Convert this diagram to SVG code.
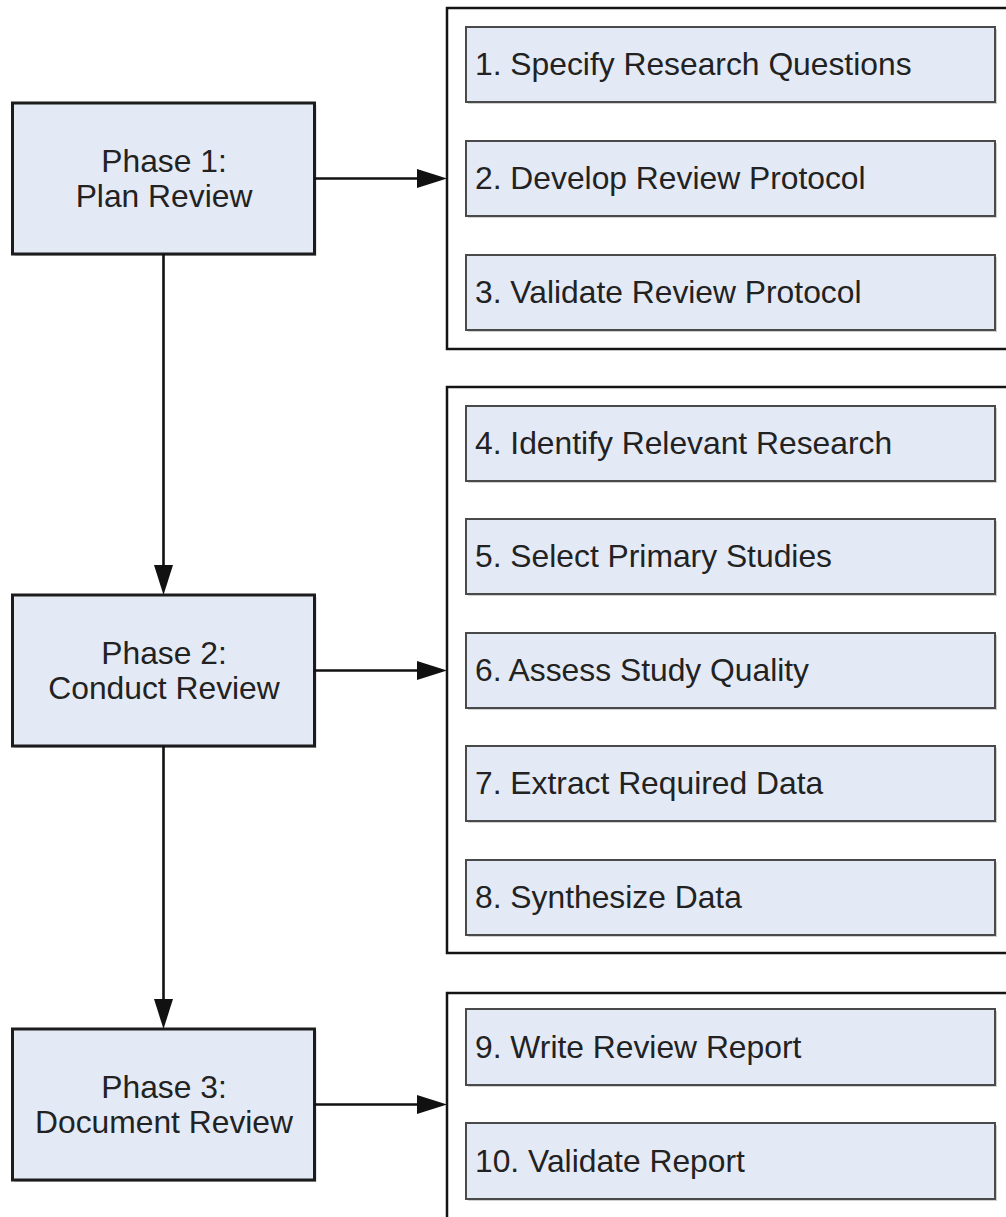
<svg xmlns="http://www.w3.org/2000/svg" width="1006" height="1217" viewBox="0 0 1006 1217">
  <style>
    .phase { fill: #e4eaf5; stroke: #1c1c1c; stroke-width: 3; }
    .group { fill: #ffffff; stroke: #141414; stroke-width: 2.5; }
    .step { fill: #e4eaf5; stroke: #4a4a4a; stroke-width: 2; }
    .shadow { fill: #9a9a9a; opacity: 0.45; }
    .label { font-family: "Liberation Sans", Arial, sans-serif; fill: #222222; font-size: 31.8px; }
    .phase-text { text-anchor: middle; }
    .conn { stroke: #111111; stroke-width: 2.6; fill: none; marker-end: url(#arrow); }
  </style>
  <defs>
    <marker id="arrow" markerUnits="userSpaceOnUse" markerWidth="30" markerHeight="19" refX="5" refY="9.5" orient="auto">
      <path d="M0,0 L30,9.5 L0,19 Z" fill="#111111"/>
    </marker>
  </defs>

  <rect width="1006" height="1217" fill="#ffffff"/>

  <!-- Phase boxes -->
  <g id="phase1">
    <rect class="shadow" x="14.5" y="105" width="302" height="151"/>
    <rect class="phase" x="12.5" y="103" width="302" height="151"/>
    <text class="label phase-text" x="164" y="172">Phase 1:</text>
    <text class="label phase-text" x="164" y="207">Plan Review</text>
  </g>
  <g id="phase2">
    <rect class="shadow" x="14.5" y="597" width="302" height="151"/>
    <rect class="phase" x="12.5" y="595" width="302" height="151"/>
    <text class="label phase-text" x="164" y="664">Phase 2:</text>
    <text class="label phase-text" x="164" y="699">Conduct Review</text>
  </g>
  <g id="phase3">
    <rect class="shadow" x="14.5" y="1031" width="302" height="151"/>
    <rect class="phase" x="12.5" y="1029" width="302" height="151"/>
    <text class="label phase-text" x="164" y="1098">Phase 3:</text>
    <text class="label phase-text" x="164" y="1133">Document Review</text>
  </g>

  <!-- Step groups -->
  <g id="plan-steps">
    <rect class="group" x="447" y="8" width="580" height="341"/>
    <g id="step1">
      <rect class="shadow" x="468" y="29" width="529" height="75"/>
      <rect class="step" x="466" y="27" width="529" height="75"/>
      <text class="label" x="475" y="75">1. Specify Research Questions</text>
    </g>
    <g id="step2">
      <rect class="shadow" x="468" y="143" width="529" height="75"/>
      <rect class="step" x="466" y="141" width="529" height="75"/>
      <text class="label" x="475" y="189">2. Develop Review Protocol</text>
    </g>
    <g id="step3">
      <rect class="shadow" x="468" y="257" width="529" height="75"/>
      <rect class="step" x="466" y="255" width="529" height="75"/>
      <text class="label" x="475" y="303">3. Validate Review Protocol</text>
    </g>
  </g>

  <g id="conduct-steps">
    <rect class="group" x="447" y="387" width="580" height="566"/>
    <g id="step4">
      <rect class="shadow" x="468" y="408" width="529" height="75"/>
      <rect class="step" x="466" y="406" width="529" height="75"/>
      <text class="label" x="475" y="454">4. Identify Relevant Research</text>
    </g>
    <g id="step5">
      <rect class="shadow" x="468" y="521" width="529" height="75"/>
      <rect class="step" x="466" y="519" width="529" height="75"/>
      <text class="label" x="475" y="567">5. Select Primary Studies</text>
    </g>
    <g id="step6">
      <rect class="shadow" x="468" y="635" width="529" height="75"/>
      <rect class="step" x="466" y="633" width="529" height="75"/>
      <text class="label" x="475" y="681">6. Assess Study Quality</text>
    </g>
    <g id="step7">
      <rect class="shadow" x="468" y="748" width="529" height="75"/>
      <rect class="step" x="466" y="746" width="529" height="75"/>
      <text class="label" x="475" y="794">7. Extract Required Data</text>
    </g>
    <g id="step8">
      <rect class="shadow" x="468" y="862" width="529" height="75"/>
      <rect class="step" x="466" y="860" width="529" height="75"/>
      <text class="label" x="475" y="908">8. Synthesize Data</text>
    </g>
  </g>

  <g id="document-steps">
    <rect class="group" x="447" y="993" width="580" height="260"/>
    <g id="step9">
      <rect class="shadow" x="468" y="1011" width="529" height="76"/>
      <rect class="step" x="466" y="1009" width="529" height="76"/>
      <text class="label" x="475" y="1058">9. Write Review Report</text>
    </g>
    <g id="step10">
      <rect class="shadow" x="468" y="1125" width="529" height="76"/>
      <rect class="step" x="466" y="1123" width="529" height="76"/>
      <text class="label" x="475" y="1172">10. Validate Report</text>
    </g>
  </g>

  <!-- Connectors -->
  <g id="connectors">
    <line class="conn" x1="314" y1="178.5" x2="422" y2="178.5"/>
    <line class="conn" x1="314" y1="670.5" x2="422" y2="670.5"/>
    <line class="conn" x1="314" y1="1104.5" x2="422" y2="1104.5"/>
    <line class="conn" x1="163.5" y1="254" x2="163.5" y2="570"/>
    <line class="conn" x1="163.5" y1="746" x2="163.5" y2="1004"/>
  </g>
</svg>
